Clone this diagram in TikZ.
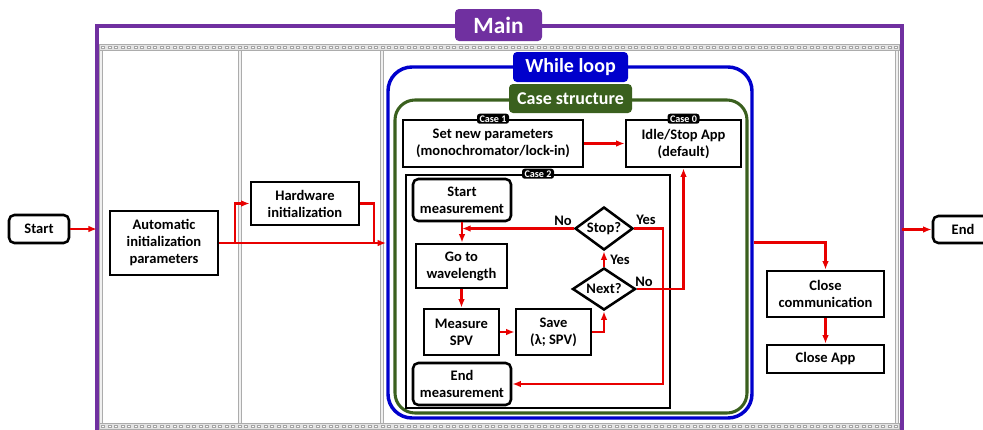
\documentclass[tikz,border=0pt]{standalone}
\usepackage{fontspec}
\setmainfont{Carlito}
\usetikzlibrary{arrows.meta,shapes.geometric,calc}
\definecolor{mpurple}{HTML}{7030A0}
\definecolor{mblue}{HTML}{0000CC}
\definecolor{mgreen}{HTML}{3A601E}
\definecolor{mred}{HTML}{E80000}
\newcommand\bfnt{\fontsize{10.9}{12.75}\selectfont\bfseries}
\tikzset{
  px/.style 2 args={minimum width=#1*0.75pt, minimum height=#2*0.75pt},
  box/.style={draw=black, line width=1.9pt, fill=white, align=center, inner sep=1pt, font=\bfnt},
  rbox/.style={box, rounded corners=4pt},
  dec/.style={diamond, draw=black, line width=1.9pt, fill=white, inner sep=0pt, font=\bfnt},
  arr/.style={draw=mred, line width=1.7pt, -{Latex[length=6.5pt,width=5pt]}},
  ln/.style={draw=mred, line width=1.7pt},
  tag/.style={fill=black, text=white, rounded corners=2pt, inner sep=0pt, px={32}{10},
    font=\fontsize{7.6}{8}\selectfont\bfseries},
  lbl/.style={font=\bfnt, inner sep=0pt},
  title/.style={text=white, rounded corners=3pt, inner sep=0pt, font=\bfseries},
  sep/.style={fill=gray!12, draw=gray!65, line width=0.6pt},
}
\begin{document}
\begin{tikzpicture}[x=0.75pt,y=-0.75pt]
\useasboundingbox (0,0) rectangle (983,429);

% ---- film strip (flat sequence) ----
\foreach \ya in {44,423}{
  \fill[gray!22] (99,\ya) rectangle (899,\ya+6);
  \draw[gray!65, line width=0.5pt] (99,\ya) rectangle (899,\ya+6);
  \foreach \i in {0,...,122}
    \draw[gray!70, fill=white, line width=0.3pt] (101.5+\i*6.5,\ya+1.8) rectangle ++(3,2.4);
}
\foreach \xa in {99,238,380,895}
  \draw[sep] (\xa,50) rectangle (\xa+3.5,423);

% ---- Main frame ----
\coordinate (mtl) at (97,26);
\coordinate (mtr) at (902,26);
\draw[mpurple, line width=2.3pt] (97,432) -- (mtl) -- (mtr) -- (902,432);
\node[title, fill=mpurple, px={87}{32}, font=\fontsize{17.5}{18}\selectfont\bfseries] (mainl) at (498.5,25) {Main};

% ---- While loop and case structure ----
\node[draw=mblue, line width=2.6pt, rounded corners=18pt, px={364}{351}] (wl) at (570,242.5) {};
\node[draw=mgreen, line width=2.3pt, rounded corners=15pt, px={352}{313}] (cs) at (571,256.5) {};
\node[title, fill=mblue, px={115}{30}, font=\fontsize{15}{16}\selectfont\bfseries] (wll) at (570.5,67) {While loop};
\node[title, fill=mgreen, px={123}{29}, font=\fontsize{13.5}{14}\selectfont\bfseries] (csl) at (570.5,98.5) {Case structure};

% ---- cases ----
\node[box, px={180}{47}] (c1) at (493,143.5) {Set new parameters\\(monochromator/lock-in)};
\node[box, px={115}{47}] (c0) at (683.5,143.5) {Idle/Stop App\\(default)};
\node[draw=black, line width=1.9pt, px={264}{233}] (c2) at (538,291.5) {};
\node[tag] (t1) at (c1.north) {Case 1};
\node[tag] (t0) at (c0.north) {Case 0};
\node[tag] (t2) at (c2.north) {Case 2};

\node[rbox, px={98}{42}] (sm) at (462,200) {Start\\measurement};
\node[box, px={91}{44}] (go) at (461.5,266) {Go to\\wavelength};
\node[box, px={75}{46}] (ms) at (461.5,332) {Measure\\SPV};
\node[box, px={75}{46}] (sv) at (553.5,332) {Save\\(λ; SPV)};
\node[rbox, px={98}{42}] (em) at (462,384) {End\\measurement};
\node[dec, px={58}{43}, aspect=1.35] (stop) at (604,228.5) {Stop?};
\node[dec, px={63}{42}, aspect=1.5] (next) at (604,289) {Next?};

% ---- outside nodes ----
\node[rbox, px={60}{28}] (start) at (39,229) {Start};
\node[rbox, px={60}{27}] (endn) at (963,229.5) {End};
\node[box, px={108}{64}] (auto) at (164,243) {Automatic\\initialization\\parameters};
\node[box, px={108}{43}] (hw) at (305,203.5) {Hardware\\initialization};
\node[box, px={117}{46}] (cc) at (825.5,294) {Close\\communication};
\node[box, px={117}{28}] (ca) at (825.5,359) {Close App};

% ---- connectors ----
\draw[arr] (start.east) -- (start.east -| mtl);
\draw[arr] (endn.west -| mtr) -- (endn.west);
\draw[arr] (auto.east) -- (auto.east -| wl.west);
\coordinate (br) at (235,243);
\coordinate (hj) at (374,243);
\draw[arr] (br) |- (hw.west);
\draw[ln] (hw.east) -| (hj);
\draw[arr] (wl.east) -| (cc.north);
\draw[arr] (cc.south) -- (ca.north);
\draw[arr] (c1.east) -- (c1.east -| c0.west);

\draw[arr] (sm.south) -- (sm.south |- go.north);
\draw[arr] (go.south) -- (go.south |- ms.north);
\draw[arr] (ms.east) -- (sv.west);
\draw[arr] (sv.east) -| (next.south);
\draw[arr] (next.north) -- (stop.south);
\draw[arr] (stop.west) -- (stop.west -| sm.south);
\coordinate (yx) at (663,228.5);
\draw[arr] (stop.east) -- (yx) |- (em.east);
\draw[arr] (next.east) -| (c0.south);

\node[lbl] (lno1) at (563,221) {No};
\node[lbl] (lyes1) at (646,220) {Yes};
\node[lbl] (lyes2) at (620,260) {Yes};
\node[lbl] (lno2) at (644,282) {No};
\end{tikzpicture}
\end{document}
